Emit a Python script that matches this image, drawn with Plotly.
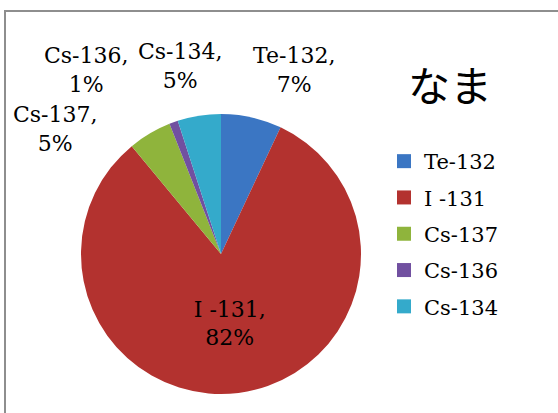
import plotly.graph_objects as go

# Nuclide share of released radioactivity
nuclides = ["Te-132", "I -131", "Cs-137", "Cs-136", "Cs-134"]
shares = [7, 82, 5, 1, 5]
colors = ["#3b76c3", "#b3322f", "#8fb43c", "#7150a0", "#34aacb"]

W, H = 558, 413
SERIF = "DejaVu Serif, Liberation Serif, serif"
FONT_SIZE = 22

# pie placement in pixels (centre and radius)
CX, CY, R = 221, 254, 140

# outside data-label anchor points in pixels; the big slice is labelled inside
label_px = {
    "Te-132": (294, 70),
    "Cs-134": (180, 66),
    "Cs-136": (86, 70),
    "Cs-137": (55, 129),
}

fig = go.Figure(
    go.Pie(
        labels=nuclides,
        values=shares,
        sort=False,
        direction="clockwise",
        rotation=0,
        marker=dict(colors=colors, line=dict(width=0)),
        texttemplate=[
            "" if n in label_px else "%{label},<br>%{percent:.0%}" for n in nuclides
        ],
        textposition="inside",
        textfont=dict(family=SERIF, size=FONT_SIZE, color="#000000"),
        insidetextorientation="horizontal",
        domain=dict(x=[(CX - R) / W, (CX + R) / W], y=[(H - CY - R) / H, (H - CY + R) / H]),
        showlegend=False,
        hoverinfo="label+percent",
    )
)

# legend entries as square markers, one group each so the rows can be spaced
for name, col in zip(nuclides, colors):
    fig.add_trace(
        go.Scatter(
            x=[None],
            y=[None],
            mode="markers",
            name=name,
            legendgroup=name,
            marker=dict(symbol="square", size=14, color=col),
            showlegend=True,
        )
    )

total = sum(shares)
annotations = []
for name, val in zip(nuclides, shares):
    if name not in label_px:
        continue
    px, py = label_px[name]
    annotations.append(
        dict(
            text=f"{name},<br>{round(100 * val / total)}%",
            x=px / W,
            y=1 - py / H,
            xref="paper",
            yref="paper",
            xanchor="center",
            yanchor="middle",
            showarrow=False,
            font=dict(family=SERIF, size=FONT_SIZE, color="#000000"),
        )
    )

annotations.append(
    dict(
        text="なま",
        x=450 / W,
        y=1 - 83 / H,
        xref="paper",
        yref="paper",
        xanchor="center",
        yanchor="middle",
        showarrow=False,
        font=dict(family="Noto Sans CJK JP", size=42, color="#000000"),
    )
)

fig.update_layout(
    width=W,
    height=H,
    margin=dict(l=0, r=0, t=0, b=0),
    paper_bgcolor="#ffffff",
    plot_bgcolor="#ffffff",
    xaxis=dict(visible=False),
    yaxis=dict(visible=False),
    legend=dict(
        x=384 / W,
        y=1 - 141 / H,
        xanchor="left",
        yanchor="top",
        font=dict(family=SERIF, size=21, color="#000000"),
        tracegroupgap=6,
        itemwidth=30,
        bgcolor="rgba(0,0,0,0)",
    ),
    annotations=annotations,
    shapes=[
        dict(
            type="rect",
            xref="paper",
            yref="paper",
            x0=5 / W,
            x1=1.05,
            y0=-0.05,
            y1=1 - 11 / H,
            line=dict(color="#8e8e8e", width=2),
            fillcolor="rgba(0,0,0,0)",
        )
    ],
)

fig.write_html("out.html")
